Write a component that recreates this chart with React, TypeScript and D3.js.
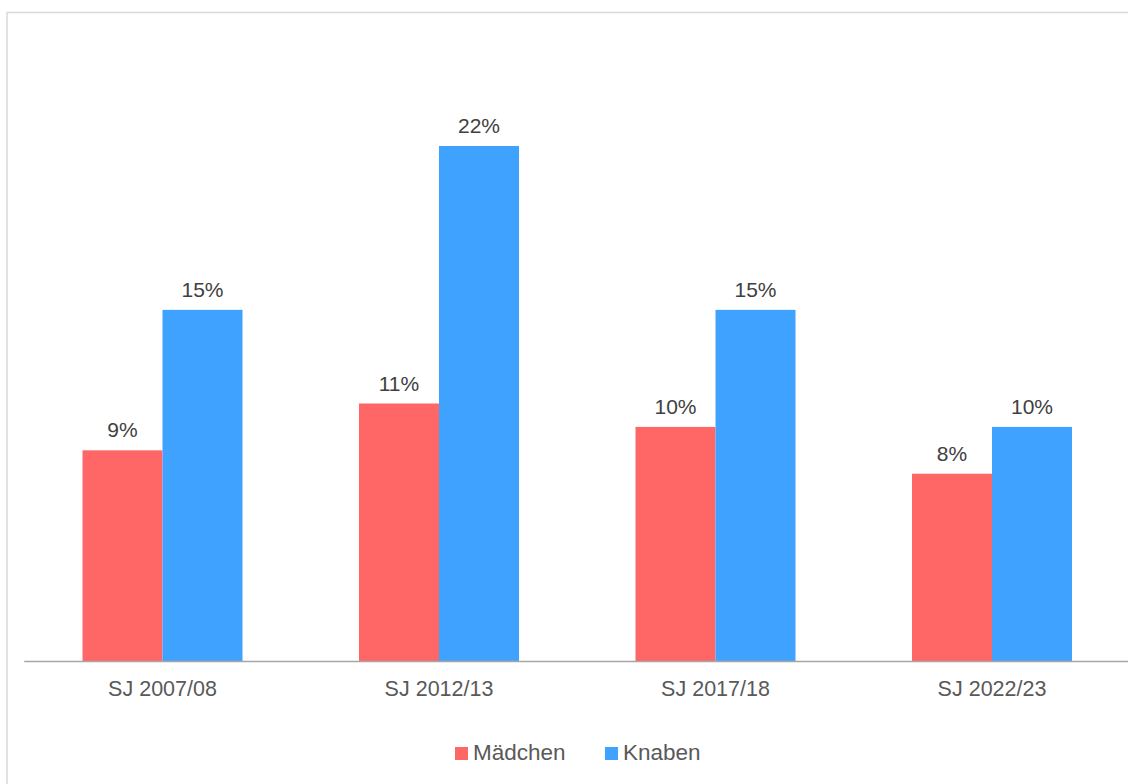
import React from "react";
import * as d3 from "d3";

const categories = ["SJ 2007/08", "SJ 2012/13", "SJ 2017/18", "SJ 2022/23"];
const maedchen = [9, 11, 10, 8];
const knaben = [15, 22, 15, 10];
const seriesNames = ["Mädchen", "Knaben"];
const colors = ["#FF6666", "#40A2FF"];

export default function App() {
  const W = 1128, H = 784;
  const baseY = 661;
  const x = d3.scaleBand<string>().domain(categories).range([24.25, 1130.25]).paddingInner(0).paddingOuter(0);
  const y = d3.scaleLinear().domain([0, 22]).range([baseY, 146]);
  const barW = 80;
  const series = [maedchen, knaben];
  const font = "Liberation Sans, Arial, sans-serif";
  return (
    <svg width={W} height={H} style={{ position: "absolute", left: 0, top: 0 }} fontFamily={font}>
      <rect x={0} y={0} width={W} height={H} fill="#fff" />
      <rect x={7} y={12.5} width={1130} height={790} fill="none" stroke="#d9d9d9" strokeWidth={1.5} />
      {categories.map((c, i) => {
        const cx = (x(c) as number) + x.bandwidth() / 2;
        return (
          <g key={c}>
            {series.map((s, k) => {
              const bx = cx - barW + k * barW;
              return (
                <g key={k}>
                  <rect x={bx} y={y(s[i])} width={barW} height={baseY - y(s[i])} fill={colors[k]} />
                  <text x={bx + barW / 2} y={y(s[i]) - 13} textAnchor="middle" fontSize={21} fill="#404040">
                    {s[i]}%
                  </text>
                </g>
              );
            })}
            <text x={cx} y={696} textAnchor="middle" fontSize={21.5} fill="#595959">{c}</text>
          </g>
        );
      })}
      <line x1={24.25} x2={1130} y1={baseY + 0.5} y2={baseY + 0.5} stroke="#a6a6a6" strokeWidth={1.5} />
      {seriesNames.map((n, k) => {
        const lx = k === 0 ? 455 : 605;
        return (
          <g key={n}>
            <rect x={lx} y={747} width={13} height={13} fill={colors[k]} />
            <text x={lx + 18} y={760} fontSize={22.5} fill="#595959">{n}</text>
          </g>
        );
      })}
    </svg>
  );
}
